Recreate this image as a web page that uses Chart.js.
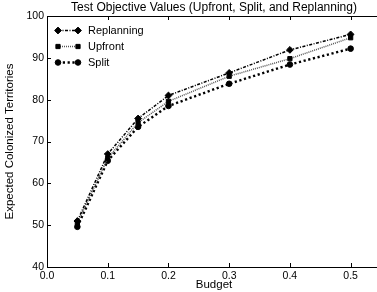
<!DOCTYPE html>
<html>
<head>
<meta charset="utf-8">
<script src="https://cdn.jsdelivr.net/npm/chart.js@4.4.0/dist/chart.umd.min.js"></script>
<style>
  html, body { margin:0; padding:0; background:#fff; overflow:hidden; }
  #wrap { width:386px; height:292px; }
</style>
</head>
<body>
<div id="wrap"><canvas id="grafica" width="386" height="292"></canvas></div>
<script>
// datos
const presupuesto = [0.05, 0.1, 0.15, 0.2, 0.3, 0.4, 0.5];
const replanning = [51.0, 67.0, 75.5, 81.0, 86.4, 91.9, 95.6];
const upfront    = [50.5, 66.0, 74.5, 79.6, 85.6, 89.8, 94.8];
const split      = [49.6, 65.4, 73.5, 78.5, 83.8, 88.4, 92.2];
const ticksX = [0, 0.1, 0.2, 0.3, 0.4, 0.5];

const TITULO = "Test Objective Values (Upfront, Split, and Replanning)";
const NEGRO = "#000000";
const FUENTE = "'Liberation Sans', Arial, Helvetica, sans-serif";

function serie(label, vals, estilo) {
  return Object.assign({
    label,
    data: presupuesto.map((x, i) => ({ x, y: vals[i] })),
    borderColor: NEGRO,
    backgroundColor: NEGRO,
    pointBorderColor: NEGRO,
    pointBackgroundColor: NEGRO,
    pointBorderWidth: 1,
    fill: false,
    tension: 0
  }, estilo);
}

const datasets = [
  serie("Replanning", replanning, { borderWidth: 1.5, borderDash: [3, 1.5, 1, 1.5], pointStyle: "rectRot", pointRadius: 3.4 }),
  serie("Upfront", upfront, { borderWidth: 1.5, borderDash: [1, 1], borderColor: "#555", pointStyle: "rect", pointRadius: 3 }),
  serie("Split", split, { borderWidth: 2.4, borderDash: [2.2, 2.6], pointStyle: "circle", pointRadius: 2.8 })
];

// marco, ticks hacia adentro, titulo y leyenda
const marco = {
  id: "marco",
  afterDatasetsDraw(chart) {
    const ctx = chart.ctx;
    const a = chart.chartArea;
    const sx = chart.scales.x, sy = chart.scales.y;
    ctx.save();
    ctx.strokeStyle = NEGRO;
    ctx.lineWidth = 1;
    ctx.beginPath();
    ctx.moveTo(a.right, a.top + 0.5);
    ctx.lineTo(a.left + 0.5, a.top + 0.5);
    ctx.lineTo(a.left + 0.5, a.bottom + 0.5);
    ctx.lineTo(a.right, a.bottom + 0.5);
    sx.ticks.forEach(t => {
      const px = Math.round(sx.getPixelForValue(t.value)) + 0.5;
      ctx.moveTo(px, a.bottom); ctx.lineTo(px, a.bottom - 4);
      ctx.moveTo(px, a.top); ctx.lineTo(px, a.top + 4);
    });
    sy.ticks.forEach(t => {
      const py = Math.round(sy.getPixelForValue(t.value)) + 0.5;
      ctx.moveTo(a.left, py); ctx.lineTo(a.left + 4, py);
    });
    ctx.stroke();

    // titulo centrado sobre el area del grafico
    ctx.fillStyle = NEGRO;
    ctx.font = "12px " + FUENTE;
    ctx.textAlign = "center";
    ctx.textBaseline = "middle";
    ctx.fillText(TITULO, (a.left + a.right) / 2, 7.5);

    // leyenda
    ctx.font = "11px " + FUENTE;
    ctx.textAlign = "left";
    chart.data.datasets.forEach((d, i) => {
      const y = 30.5 + i * 16;
      const x1 = 58, x2 = 78;
      ctx.save();
      ctx.strokeStyle = d.borderColor;
      ctx.lineWidth = d.borderWidth;
      ctx.setLineDash(d.borderDash);
      ctx.beginPath();
      ctx.moveTo(x1, y); ctx.lineTo(x2, y);
      ctx.stroke();
      ctx.restore();
      [x1, x2].forEach(x => {
        ctx.fillStyle = NEGRO;
        ctx.strokeStyle = NEGRO;
        Chart.helpers.drawPoint(ctx, {
          pointStyle: d.pointStyle, radius: d.pointRadius, borderWidth: 1, rotation: 0
        }, x, y);
      });
      ctx.fillStyle = NEGRO;
      ctx.fillText(d.label, 88, y + 0.5);
    });
    ctx.restore();
  }
};

new Chart(document.getElementById("grafica"), {
  type: "line",
  data: { datasets },
  plugins: [marco],
  options: {
    responsive: false,
    animation: false,
    layout: { padding: { left: 0, right: 3, top: 16, bottom: 0 } },
    plugins: {
      legend: { display: false },
      tooltip: { enabled: false },
      title: { display: false }
    },
    scales: {
      x: {
        type: "linear",
        min: 0, max: 0.55,
        afterBuildTicks(s) { s.ticks = ticksX.map(v => ({ value: v })); },
        afterFit(s) { s.height = 25; },
        grid: { display: false, drawTicks: false },
        border: { display: false },
        ticks: {
          color: NEGRO, padding: 3,
          font: { family: FUENTE, size: 10.5 },
          callback: v => v.toFixed(1),
          maxRotation: 0
        },
        title: {
          display: true, text: "Budget", color: NEGRO,
          font: { family: FUENTE, size: 11.5 },
          padding: { top: -2, bottom: 0 }
        }
      },
      y: {
        min: 40, max: 100,
        ticks: {
          stepSize: 10, color: NEGRO, padding: 3,
          font: { family: FUENTE, size: 10.5 }
        },
        afterFit(s) { s.width = 47; },
        grid: { display: false, drawTicks: false },
        border: { display: false },
        title: {
          display: true, text: "Expected Colonized Territories", color: NEGRO,
          font: { family: FUENTE, size: 11.5 },
          padding: { top: 3, bottom: 0 }
        }
      }
    }
  }
});
</script>
</body>
</html>
